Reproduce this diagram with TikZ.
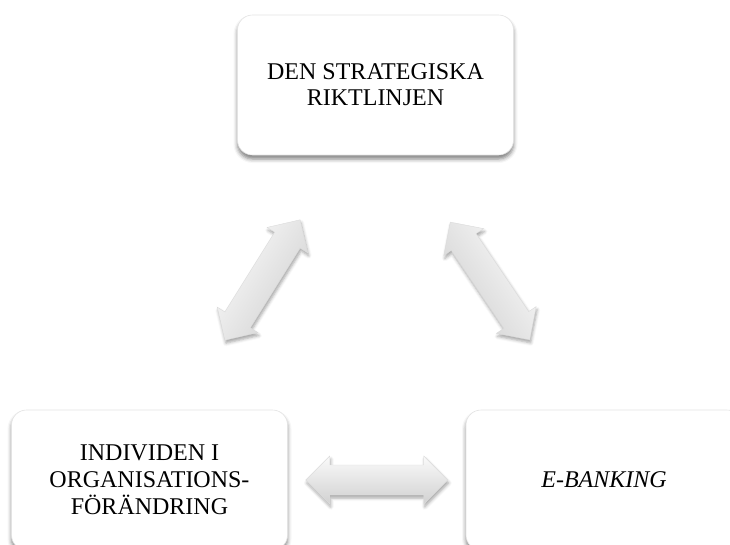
\documentclass[tikz,border=0pt]{standalone}
\usepackage{fontspec}
\setmainfont{Liberation Serif}
\usetikzlibrary{shadows.blur}
\tikzset{
  box/.style={draw=gray!22, line width=0.6pt, fill=white, rounded corners=15pt,
    minimum width=276pt, minimum height=140pt, align=center,
    font=\fontsize{24}{26}\selectfont,
    blur shadow={shadow xshift=0pt, shadow yshift=-4pt, shadow blur radius=4pt, shadow opacity=50}},
  arrowbody/.style={draw=gray!28, line width=0.4pt, shading=axis,
    top color=gray!4, middle color=gray!20, bottom color=gray!36,
    blur shadow={shadow xshift=1pt, shadow yshift=-3pt, shadow blur radius=3pt, shadow opacity=35}},
  dblarrow/.pic={
    \path[arrowbody, shading angle=#1]
      (-71,0) -- (-47,24) -- (-47,15) -- (47,15) -- (47,24) -- (71,0)
      -- (47,-24) -- (47,-15) -- (-47,-15) -- (-47,-24) -- cycle;
  }
}
\begin{document}
\begin{tikzpicture}[x=1pt,y=1pt]
\useasboundingbox (0,0) rectangle (730,-544);
\clip (0,0) rectangle (730,-544);
\node[box] (top) at (375.5,-85) {DEN STRATEGISKA\\RIKTLINJEN};
\node[box, font=\fontsize{24}{27}\selectfont] (left) at (149.5,-480) {INDIVIDEN I\\ORGANISATIONS-\\FÖRÄNDRING};
\node[box] (right) at (604,-480) {\itshape E-BANKING};
\coordinate (aL) at (262.5,-280);
\coordinate (aR) at (490,-281);
\coordinate (aB) at ($(left.east)!0.5!(right.west)$);
\pic[rotate=58] at (aL) {dblarrow=58};
\pic[rotate=-56] at (aR) {dblarrow=-56};
\pic at (aB) {dblarrow=0};
\end{tikzpicture}
\end{document}
